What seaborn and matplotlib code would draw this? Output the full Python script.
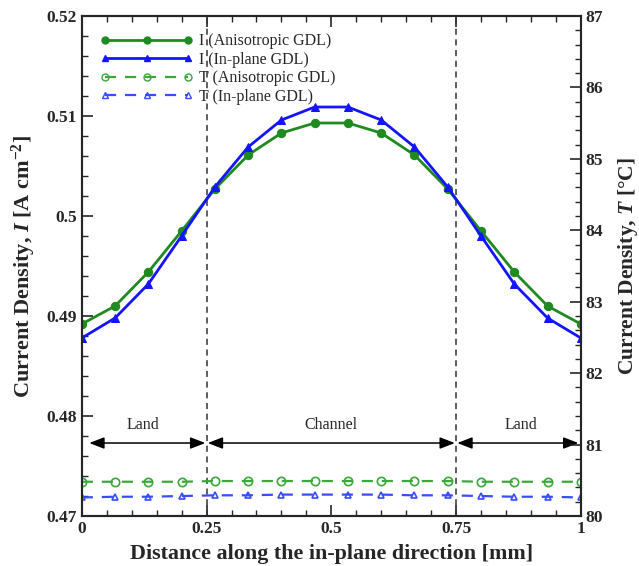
import numpy as np
import pandas as pd
import matplotlib
matplotlib.use("Agg")
import matplotlib.pyplot as plt
from matplotlib.ticker import MultipleLocator, AutoMinorLocator
from matplotlib.lines import Line2D
import seaborn as sns

# ---- data ----
x_mm = [0, 1/15, 2/15, 3/15, 4/15, 5/15, 6/15, 7/15, 8/15, 9/15, 10/15, 11/15, 12/15, 13/15, 14/15, 1]
I_aniso = [0.4892, 0.4910, 0.4944, 0.4985, 0.5027, 0.5061, 0.5083, 0.5093,
           0.5093, 0.5083, 0.5061, 0.5027, 0.4985, 0.4944, 0.4910, 0.4892]
I_inplane = [0.4878, 0.4898, 0.4932, 0.4980, 0.5029, 0.5069, 0.5096, 0.5109,
             0.5109, 0.5096, 0.5069, 0.5029, 0.4980, 0.4932, 0.4898, 0.4878]
T_aniso = [80.48, 80.48, 80.48, 80.48, 80.49, 80.49, 80.49, 80.49,
           80.49, 80.49, 80.49, 80.49, 80.48, 80.48, 80.48, 80.48]
T_inplane = [80.26, 80.27, 80.27, 80.28, 80.29, 80.29, 80.30, 80.30,
             80.30, 80.30, 80.29, 80.29, 80.28, 80.27, 80.27, 80.26]
x_ticks = [0, 0.25, 0.5, 0.75, 1]
x_ticklabels = ["0", "0.25", "0.5", "0.75", "1"]
y_ticks = [0.47, 0.48, 0.49, 0.5, 0.51, 0.52]
y_ticklabels = ["0.47", "0.48", "0.49", "0.5", "0.51", "0.52"]
t_ticks = [80, 81, 82, 83, 84, 85, 86, 87]
regions = ["Land", "Channel", "Land"]
region_bounds = [0, 0.25, 0.75, 1]

sns.set_style("ticks")
plt.rcParams['font.family'] = ['Liberation Serif', 'DejaVu Serif']
plt.rcParams['mathtext.fontset'] = 'custom'
plt.rcParams['mathtext.rm'] = 'Liberation Serif:bold'
plt.rcParams['mathtext.it'] = 'Liberation Serif:italic:bold'
plt.rcParams['mathtext.bf'] = 'Liberation Serif:bold'

fig = plt.figure(figsize=(6.39, 5.66), dpi=100)
ax = fig.add_axes([0.128, 0.0883, 0.781, 0.8834])
ax2 = ax.twinx()

green = '#1f8a1f'
blue = '#1414ff'
green_l = '#3aa83a'
blue_l = '#3a4cff'

df = pd.DataFrame({"x": x_mm, "Ia": I_aniso, "Ii": I_inplane, "Ta": T_aniso, "Ti": T_inplane})

sns.lineplot(data=df, x="x", y="Ia", ax=ax, color=green, marker='o', markersize=6,
             linewidth=2, markeredgecolor=green, zorder=5)
sns.lineplot(data=df, x="x", y="Ii", ax=ax, color=blue, marker='^', markersize=6,
             linewidth=2, markeredgecolor=blue, zorder=5)
sns.lineplot(data=df, x="x", y="Ta", ax=ax2, color=green_l, marker='o', markersize=6,
             linewidth=1.6, linestyle=(0, (5, 4)), markerfacecolor='none',
             markeredgecolor=green_l, markeredgewidth=1.2)
sns.lineplot(data=df, x="x", y="Ti", ax=ax2, color=blue_l, marker='^', markersize=5,
             linewidth=1.6, linestyle=(0, (5, 4)), markerfacecolor='none',
             markeredgecolor=blue_l, markeredgewidth=1.2)

ax.set_xlim(0, 1)
ax.set_ylim(0.47, 0.52)
ax2.set_ylim(80, 87)

# vertical separators
for xv in [0.25, 0.75]:
    ax.axvline(xv, color='#333333', linestyle=(0, (4, 3)), linewidth=1.1, zorder=1)

# region arrows
y_arr = 0.4773
pads = [(0.015, 0.0025), (0.0025, 0.0025), (0.0025, 0.005)]
label_x = [0.122, 0.5, 0.88]
for i, name in enumerate(regions):
    x0 = region_bounds[i] + pads[i][0]
    x1 = region_bounds[i + 1] - pads[i][1]
    ax.annotate("", xy=(x1, y_arr), xytext=(x0, y_arr),
                arrowprops=dict(arrowstyle='<|-|>,head_length=0.9,head_width=0.35',
                                color='black', lw=1.1, shrinkA=0, shrinkB=0))
    ax.text(label_x[i], 0.4783, name, ha='center', va='bottom', fontsize=11.5)

# ticks
ax.set_xticks(x_ticks)
ax.set_xticklabels(x_ticklabels)
ax.set_yticks(y_ticks)
ax.set_yticklabels(y_ticklabels)
ax2.set_yticks(t_ticks)
ax.xaxis.set_minor_locator(AutoMinorLocator(5))
ax.yaxis.set_minor_locator(AutoMinorLocator(5))
ax2.yaxis.set_minor_locator(AutoMinorLocator(5))
ax.tick_params(axis='both', which='major', direction='in', length=8, width=1.2,
               labelsize=12.5, top=True, right=False)
ax.tick_params(axis='both', which='minor', direction='in', length=4, width=1,
               top=True, right=False)
ax2.tick_params(axis='y', which='major', direction='in', length=8, width=1.2, labelsize=12.5)
ax2.tick_params(axis='y', which='minor', direction='in', length=4, width=1)
for lab in ax.get_xticklabels() + ax.get_yticklabels() + ax2.get_yticklabels():
    lab.set_fontweight('bold')
for a in (ax, ax2):
    for s in a.spines.values():
        s.set_linewidth(1.5)

ax.set_xlabel("Distance along the in-plane direction [mm]", fontsize=15.8,
              fontweight='bold', labelpad=5)
ax.set_ylabel(r"Current Density, $I$ [A cm$^{-2}$]", fontsize=16,
              fontweight='bold', labelpad=6)
ax2.set_ylabel(r"Current Density, $T$ [°C]", fontsize=15.5, fontweight='bold',
               labelpad=9)

# legend
for a in (ax, ax2):
    if a.get_legend() is not None:
        a.get_legend().remove()
handles = [
    Line2D([], [], color=green, marker='o', markersize=5, linewidth=2),
    Line2D([], [], color=blue, marker='^', markersize=5, linewidth=2),
    Line2D([], [], color=green_l, marker='o', markersize=5, linewidth=1.6,
           linestyle=(0, (5, 4)), markerfacecolor='none'),
    Line2D([], [], color=blue_l, marker='^', markersize=5, linewidth=1.6,
           linestyle=(0, (5, 4)), markerfacecolor='none'),
]
labels = ["I (Anisotropic GDL)", "I (In-plane GDL)", "T (Anisotropic GDL)", "T (In-plane GDL)"]
leg = ax2.legend(handles, labels, loc='upper left', bbox_to_anchor=(0.018, 0.985),
                 frameon=False, fontsize=11.5, handlelength=5.8,
                 numpoints=3, labelspacing=0.16, handletextpad=0.4, borderaxespad=0.2)

fig.savefig("out.png", dpi=100)
